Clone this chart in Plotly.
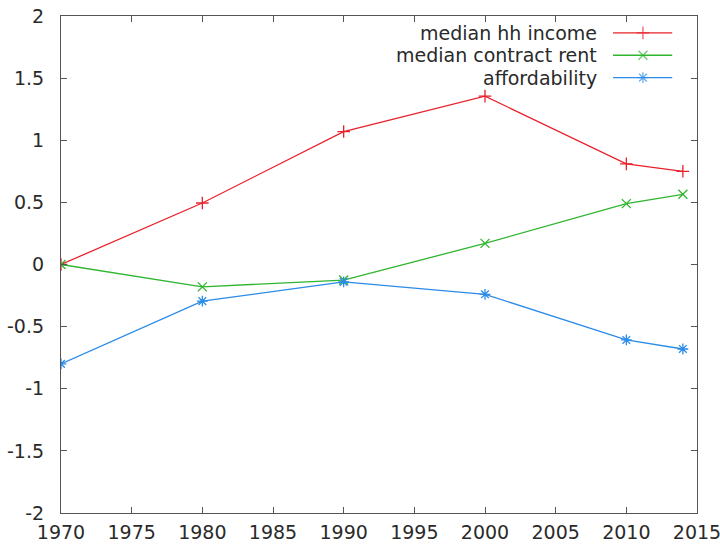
import plotly.graph_objects as go

years = [1970, 1980, 1990, 2000, 2010, 2014]
median_hh_income = [0.0, 0.495, 1.07, 1.355, 0.81, 0.75]
median_contract_rent = [0.0, -0.18, -0.125, 0.17, 0.49, 0.565]
affordability = [-0.80, -0.295, -0.14, -0.24, -0.607, -0.68]

series_names = ["median hh income", "median contract rent", "affordability"]
series_values = [median_hh_income, median_contract_rent, affordability]
series_colors = ["#e8202a", "#2fb52f", "#2a8be8"]
series_symbols = ["cross-thin-open", "x-thin-open", "asterisk-open"]

x_ticks = [1970, 1975, 1980, 1985, 1990, 1995, 2000, 2005, 2010, 2015]
y_ticks = [-2, -1.5, -1, -0.5, 0, 0.5, 1, 1.5, 2]
y_tick_text = ["-2", "-1.5", "-1", "-0.5", "0", "0.5", "1", "1.5", "2"]

FONT = "DejaVu Sans"
TEXT = "#2a2a2a"
AXIS = "#555555"

fig = go.Figure()

for name, vals, col, sym in zip(series_names, series_values, series_colors, series_symbols):
    fig.add_trace(go.Scatter(
        x=years, y=vals, mode="lines+markers", name=name,
        line=dict(color=col, width=1.3),
        marker=dict(symbol=sym, size=9, color=col, line=dict(color=col, width=1.3)),
        showlegend=False,
    ))

# gnuplot-style key: right-aligned labels with the sample line to their right
key_top = 0.966
key_step = 0.045
for i, (name, col, sym) in enumerate(zip(series_names, series_colors, series_symbols)):
    ky = key_top - i * key_step
    fig.add_trace(go.Scatter(
        x=[0.868, 0.915, 0.961], y=[ky, ky, ky], xaxis="x2", yaxis="y2",
        mode="lines+markers", showlegend=False, hoverinfo="skip",
        line=dict(color=col, width=1.3),
        marker=dict(symbol=sym, size=[0, 9, 0], color=col, line=dict(color=col, width=1.3)),
    ))
    fig.add_annotation(
        x=0.846, y=ky, xref="x2", yref="y2", text=name, showarrow=False,
        xanchor="right", yanchor="middle", font=dict(family=FONT, size=19, color=TEXT),
    )

fig.update_layout(
    width=720, height=549,
    margin=dict(l=61, r=23, t=16, b=36),
    paper_bgcolor="white", plot_bgcolor="white",
    font=dict(family=FONT, size=19, color=TEXT),
    xaxis=dict(
        range=[1970, 2015], tickvals=x_ticks, ticktext=[str(v) for v in x_ticks],
        showgrid=False, zeroline=False, showline=True, linecolor=AXIS, linewidth=1.2,
        mirror="ticks", ticks="inside", ticklen=6, tickcolor=AXIS, tickwidth=1,
        ticklabelstandoff=2, automargin=False, tickfont=dict(size=19),
        ticklabeloverflow="allow",
    ),
    yaxis=dict(
        range=[-2, 2], tickvals=y_ticks, ticktext=y_tick_text,
        showgrid=False, zeroline=False, showline=True, linecolor=AXIS, linewidth=1.2,
        mirror="ticks", ticks="inside", ticklen=6, tickcolor=AXIS, tickwidth=1,
        ticklabelstandoff=12, automargin=False, tickfont=dict(size=19),
        ticklabeloverflow="allow",
    ),
    xaxis2=dict(range=[0, 1], overlaying="x", visible=False, fixedrange=True),
    yaxis2=dict(range=[0, 1], overlaying="y", visible=False, fixedrange=True),
)

fig.write_html("out.html")
